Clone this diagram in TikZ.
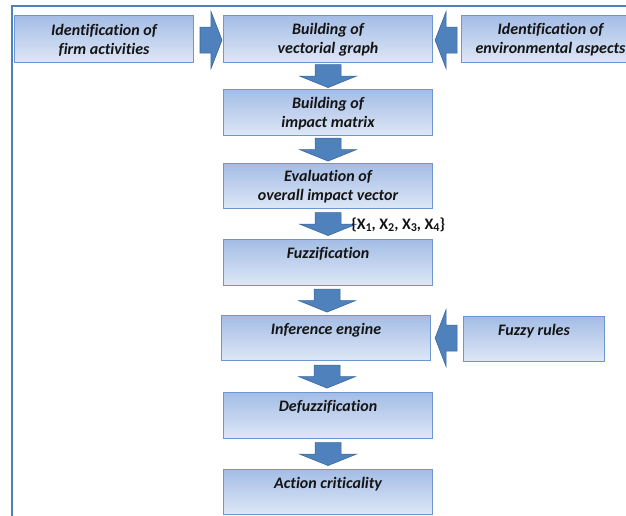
\documentclass[tikz,border=0pt]{standalone}
\usepackage{fontspec}
\setmainfont{Carlito}[Ligatures=NoCommon]
\usetikzlibrary{calc}
\definecolor{frameblue}{HTML}{4F81BD}
\definecolor{boxtop}{HTML}{A4BDE6}
\definecolor{boxbot}{HTML}{DEE7F6}
\definecolor{boxedge}{HTML}{6E96CF}
\definecolor{arrowfill}{HTML}{4F81BD}
\definecolor{arrowedge}{HTML}{3A689F}
\definecolor{txt}{HTML}{141414}
\newcommand{\xsb}[1]{\raisebox{-0.2ex}{\fontsize{12}{12}\selectfont #1}}
\newcommand{\tl}{\rule{0pt}{13pt}}
\newcommand{\ol}{\rule{0pt}{17pt}}
\begin{document}
\begin{tikzpicture}[x=1pt,y=-1pt,
  box/.style={draw=boxedge, line width=1.1pt, top color=boxtop, bottom color=boxbot,
    inner sep=0pt, align=center, anchor=north west, text=txt,
    font=\bfseries\itshape\fontsize{16}{19}\selectfont},
  blockarrow/.style={fill=arrowfill, draw=arrowedge, line width=0.6pt, line join=miter}]
\useasboundingbox (0,0) rectangle (626,515);
\clip (0,0) rectangle (626,515);
\fill[white] (0,0) rectangle (626,515);
% outer frame
\draw[frameblue, line width=2pt] (12,516) -- (12,6) -- (627,6);
% boxes
\node[box, minimum width=179, minimum height=47] (a) at (14,15) {\tl Identification of\\firm activities};
\node[box, minimum width=209, minimum height=47] (b) at (223,15) {\tl Building of\\vectorial graph};
\node[box, minimum width=178, minimum height=47] (c) at (461,15) {\tl Identification of\\environmental aspects};
\node[box, minimum width=209, minimum height=46] (d) at (223,89) {\tl Building of\\impact matrix};
\node[box, minimum width=209, minimum height=45] (e) at (223,163) {\tl Evaluation of\\overall impact vector};
\node[box, minimum width=209, minimum height=46] (f) at (223,239) {\ol Fuzzification\\\strut};
\node[box, minimum width=209, minimum height=45] (g) at (221,315) {\ol Inference engine\\\strut};
\node[box, minimum width=141, minimum height=45] (h) at (463,316) {\ol Fuzzy rules\\\strut};
\node[box, minimum width=209, minimum height=46] (i) at (223,392) {\ol Defuzzification\\\strut};
\node[box, minimum width=209, minimum height=45] (j) at (223,469) {\ol Action criticality\\\strut};
% arrow positions
\coordinate (r1) at ($(b.west)+(-12,1)$);
\coordinate (l1) at ($(b.east)+(13,1)$);
\coordinate (l2) at ($(g.east)+(15,0)$);
\coordinate (m1) at ($(b.south)!0.5!(d.north)$);
\coordinate (m2) at ($(d.south)!0.5!(e.north)$);
\coordinate (m3) at ($(e.south)!0.5!(f.north)$);
\coordinate (m4) at ($(f.south)!0.5!(g.north)$);
\coordinate (m5) at ($(g.south)!0.5!(i.north)$);
\coordinate (m6) at ($(i.south)!0.5!(j.north)$);
% right arrow
\draw[blockarrow, shift={(r1)}] (-11,-13) -- (0,-13) -- (0,-28.5) -- (11,0) -- (0,28.5) -- (0,13) -- (-11,13) -- cycle;
% left arrows
\foreach \p in {l1,l2}{
  \draw[blockarrow, shift={(\p)}] (11,-13) -- (0,-13) -- (0,-28.5) -- (-11,0) -- (0,28.5) -- (0,13) -- (11,13) -- cycle;
}
% down arrows
\foreach \p in {m1,m2,m3,m4,m5,m6}{
  \draw[blockarrow, shift={(\p)}] (-13,-11.5) -- (13,-11.5) -- (13,0) -- (28.5,0) -- (0,11.5) -- (-28.5,0) -- (-13,0) -- cycle;
}
% label
\node[anchor=west, inner sep=0pt, text=txt, font=\bfseries\fontsize{16}{17}\selectfont] (xl) at ($(m3)+(23,1)$)
  {\{X\xsb{1}, X\xsb{2}, X\xsb{3}, X\xsb{4}\}};
\end{tikzpicture}
\end{document}
